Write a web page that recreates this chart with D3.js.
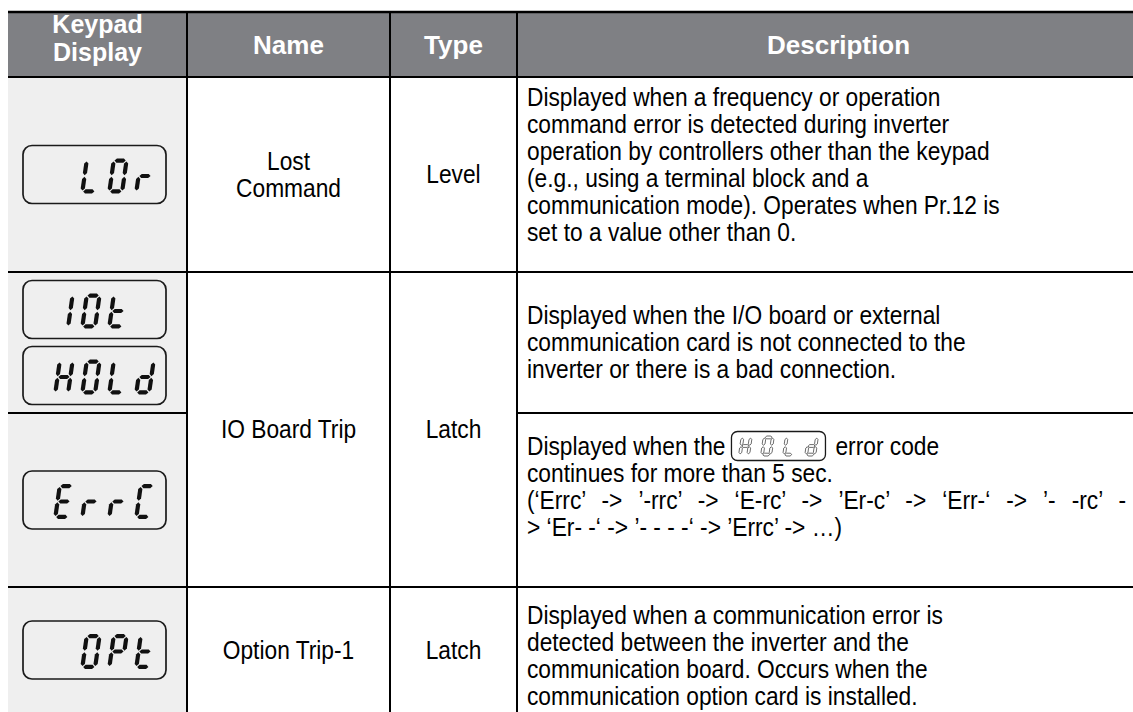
<!DOCTYPE html>
<html><head><meta charset="utf-8">
<script src="https://cdn.jsdelivr.net/npm/d3@7"></script>
<style>html,body{margin:0;padding:0;background:#fff;overflow:hidden}</style>
</head><body><svg id="c" width="1133" height="712"></svg>
<script>
// ---------------- data ----------------
const headers = ["Keypad\nDisplay", "Name", "Type", "Description"];
const keypadDisplays = [[" LOr"], ["10t ", "HOLd"], ["ErrC"], [" OPt"]];
const names = ["Lost\nCommand", "IO Board Trip", "Option Trip-1"];
const types = ["Level", "Latch", "Latch"];
const nameRowSpans = [1, 2, 1];
const descriptions = [
  ["Displayed when a frequency or operation",
   "command error is detected during inverter",
   "operation by controllers other than the keypad",
   "(e.g., using a terminal block and a",
   "communication mode). Operates when Pr.12 is",
   "set to a value other than 0.",
   ""],
  ["Displayed when the I/O board or external",
   "communication card is not connected to the",
   "inverter or there is a bad connection."],
  [["Displayed when the", "HOLd", "error code"],
   "continues for more than 5 sec.",
   "(\u2018Errc\u2019 -> \u2019-rrc\u2019 -> \u2018E-rc\u2019 -> \u2019Er-c\u2019 -> \u2018Err-\u2018 -> \u2019- -rc\u2019 -",
   "> \u2018Er- -\u2018 -> \u2019- - - -\u2018 -> \u2019Errc\u2019 -> \u2026)",
   ""],
  ["",
   "Displayed when a communication error is",
   "detected between the inverter and the",
   "communication board. Occurs when the",
   "communication option card is installed."]
];
const segmentMap = {L:"def", O:"abcdef", "0":"abcdef", r:"eg", "1":"bc", t:"defg",
  H:"bcefg", d:"bcdeg", E:"adefg", C:"adef", P:"abefg"};

// ---------------- layout ----------------
const W = 1133, H = 712;
const colX = [8, 187, 390, 517, 1160];
const rowY = [12, 77, 272, 413, 587, 713];
const FONT = '"Liberation Sans", Arial, Helvetica, sans-serif';
const FS = 25, LH = 27, SX = 0.91, HFS = 26;
const DESC_RIGHT = 1126;
const descShift = [4, 0, 0, -8];

const svg = d3.select("#c");
svg.append("rect").attr("width", W).attr("height", H).attr("fill", "#fff");
svg.append("rect").attr("x", colX[0]).attr("y", rowY[0]).attr("width", colX[4] - colX[0])
  .attr("height", rowY[1] - rowY[0]).attr("fill", "#7f8084");
svg.append("rect").attr("x", colX[0]).attr("y", rowY[1]).attr("width", colX[1] - colX[0])
  .attr("height", H - rowY[1]).attr("fill", "#efefef");

// grid lines
const hLines = [
  {y: rowY[0], x1: colX[0], x2: W, w: 2.5},
  {y: rowY[1], x1: colX[0], x2: W, w: 2.2},
  {y: rowY[2], x1: colX[0], x2: W, w: 2},
  {y: rowY[3], x1: colX[0], x2: colX[1], w: 2},
  {y: rowY[3], x1: colX[3], x2: W, w: 2},
  {y: rowY[4], x1: colX[0], x2: W, w: 2}
];
svg.selectAll("line.h").data(hLines).join("line").attr("class", "h")
  .attr("x1", d => d.x1).attr("x2", d => d.x2).attr("y1", d => d.y).attr("y2", d => d.y)
  .attr("stroke", "#000").attr("stroke-width", d => d.w);
svg.selectAll("line.v").data(colX.slice(1, 4)).join("line").attr("class", "v")
  .attr("x1", d => d).attr("x2", d => d).attr("y1", rowY[0]).attr("y2", H)
  .attr("stroke", "#000").attr("stroke-width", 2);

// header text
headers.forEach((h, i) => {
  const lines = h.split("\n");
  const cx = (colX[i] + colX[i + 1]) / 2;
  const baselines = lines.length === 2 ? [33, 61] : [53.5];
  const fs = lines.length === 2 ? 25 : HFS;
  lines.forEach((l, k) => {
    svg.append("text").attr("x", cx).attr("y", baselines[k]).attr("text-anchor", "middle")
      .attr("font-family", FONT).attr("font-weight", "bold").attr("font-size", fs)
      .attr("fill", "#fff").text(l);
  });
});

function addText(g, str, x, y, anchor) {
  return g.append("text").attr("transform", `translate(${x},${y}) scale(${SX},1)`)
    .attr("text-anchor", anchor || "start").attr("font-family", FONT)
    .attr("font-size", FS).attr("fill", "#000").text(str);
}

function textBlock(lines, cx, cy, anchor, justify) {
  const g = svg.append("g");
  lines.forEach((l, k) => {
    const mid = cy + (k - (lines.length - 1) / 2) * LH;
    const y = mid + FS * 0.35;
    if (Array.isArray(l)) {
      const t1 = addText(g, l[0], cx, y);
      const len = t1.node().getComputedTextLength() * SX;
      const bx = cx + len + 6;
      const bw = 94, bh = 29;
      drawDisplay(g, l[1], bx, mid - bh / 2, bw, bh, true);
      addText(g, l[2], bx + bw + 10, y);
    } else if (l) {
      const t = addText(g, l, cx, y, anchor);
      if (justify && justify(l, k)) {
        const nat = t.node().getComputedTextLength();
        const spaces = (l.match(/ /g) || []).length;
        const target = (DESC_RIGHT - cx) / SX;
        t.attr("word-spacing", (target - nat) / spaces);
      }
    }
  });
}

// seven segment glyph
function segPolys(w, h, t, gap) {
  const hs = (x1, x2, y) => [[x1 + gap, y], [x1 + gap + t / 2, y - t / 2], [x2 - gap - t / 2, y - t / 2],
    [x2 - gap, y], [x2 - gap - t / 2, y + t / 2], [x1 + gap + t / 2, y + t / 2]];
  const vs = (x, y1, y2) => [[x, y1 + gap], [x + t / 2, y1 + gap + t / 2], [x + t / 2, y2 - gap - t / 2],
    [x, y2 - gap], [x - t / 2, y2 - gap - t / 2], [x - t / 2, y1 + gap + t / 2]];
  return {
    a: hs(t / 2, w - t / 2, t / 2), g: hs(t / 2, w - t / 2, h / 2), d: hs(t / 2, w - t / 2, h - t / 2),
    f: vs(t / 2, t / 2, h / 2), b: vs(w - t / 2, t / 2, h / 2),
    e: vs(t / 2, h / 2, h - t / 2), c: vs(w - t / 2, h / 2, h - t / 2)
  };
}

function drawDisplay(parent, str, x, y, w, h, small) {
  const g = parent.append("g");
  g.append("rect").attr("x", x).attr("y", y).attr("width", w).attr("height", h)
    .attr("rx", small ? 6 : 9).attr("fill", "none").attr("stroke", "#1a1a1a")
    .attr("stroke-width", small ? 1.3 : 1.7);
  const chars = str.split("");
  const gh = small ? 20 : 35, gw = small ? 11 : 17, gt = small ? 2.8 : 4.2;
  const slant = Math.tan(8 * Math.PI / 180) * gh;
  const slot = d3.scaleLinear().domain([0, 3])
    .range(small ? [x + 7, x + w - 7 - gw - slant] : [x + 30, x + 111]);
  const gy = y + (h - gh) / 2 + (small ? 0 : 1.5);
  const polys = segPolys(gw, gh, gt, small ? 0.7 : 0.8);
  chars.forEach((ch, i) => {
    const segs = segmentMap[ch];
    if (!segs) return;
    const cg = g.append("g")
      .attr("transform", `translate(${slot(i) + slant},${gy}) skewX(-8)`);
    cg.selectAll("polygon").data(segs.split("")).join("polygon")
      .attr("points", s => polys[s].map(p => p.join(",")).join(" "))
      .attr("fill", small ? "none" : "#111")
      .attr("stroke", small ? "#333" : "none")
      .attr("stroke-width", small ? 0.7 : 0);
  });
}

// keypad displays
const boxW = 143, boxH = 58, boxGap = 8;
const rowCenter = r => (rowY[r + 1] + rowY[r + 2]) / 2;
keypadDisplays.forEach((list, r) => {
  const cy = rowCenter(r);
  const total = list.length * boxH + (list.length - 1) * boxGap;
  list.forEach((s, k) => {
    drawDisplay(svg, s, 23, cy - total / 2 + k * (boxH + boxGap), boxW, boxH, false);
  });
});

// name & type
let ri = 0;
names.forEach((n, i) => {
  const span = nameRowSpans[i];
  const cy = (rowY[ri + 1] + rowY[ri + 1 + span]) / 2;
  textBlock(n.split("\n"), (colX[1] + colX[2]) / 2, cy, "middle");
  textBlock([types[i]], (colX[2] + colX[3]) / 2, cy, "middle");
  ri += span;
});

// descriptions
descriptions.forEach((lines, r) => {
  textBlock(lines, colX[3] + 10, rowCenter(r) + descShift[r], "start",
    (l, k) => r === 2 && k === 2);
});
</script></body></html>
